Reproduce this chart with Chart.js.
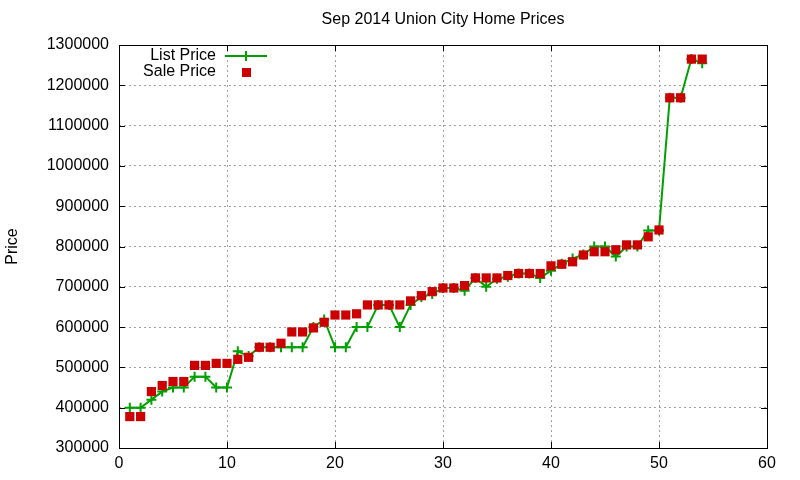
<!DOCTYPE html>
<html>
<head>
<meta charset="utf-8">
<script src="https://cdn.jsdelivr.net/npm/chart.js"></script>
<style>
  html, body { margin: 0; padding: 0; background: #ffffff; }
  #chart { display: block; }
</style>
</head>
<body>
<canvas id="chart" width="800" height="480"></canvas>
<script>
// Sep 2014 Union City home prices

const homeIndex = [1, 2, 3, 4, 5, 6, 7, 8, 9, 10,
                   11, 12, 13, 14, 15, 16, 17, 18, 19, 20,
                   21, 22, 23, 24, 25, 26, 27, 28, 29, 30,
                   31, 32, 33, 34, 35, 36, 37, 38, 39, 40,
                   41, 42, 43, 44, 45, 46, 47, 48, 49, 50,
                   51, 52, 53, 54];

const listPrice = [400000, 400000, 420000, 440000, 450000, 450000, 477000, 477000, 450000, 450000,
                   540000, 528000, 550000, 550000, 550000, 550000, 550000, 600000, 619000, 550000,
                   550000, 600000, 600000, 655000, 655000, 600000, 655000, 675000, 682000, 697000,
                   697000, 690000, 722000, 700000, 720000, 725000, 733000, 733000, 722000, 740000,
                   757000, 770000, 780000, 800000, 800000, 775000, 800000, 800000, 840000, 840000,
                   1169000, 1169000, 1265000, 1255000];

const salePrice = [378000, 378000, 440000, 455000, 465000, 465000, 505000, 505000, 510000, 510000,
                   520000, 525000, 550000, 550000, 560000, 588000, 588000, 598000, 612000, 630000,
                   630000, 633000, 655000, 655000, 655000, 655000, 665000, 678000, 688000, 697000,
                   697000, 703000, 722000, 722000, 722000, 728000, 733000, 733000, 733000, 752000,
                   756000, 762000, 779000, 787000, 787000, 792000, 804000, 804000, 824000, 841000,
                   1169000, 1169000, 1265000, 1265000];

const xTicks = [0, 10, 20, 30, 40, 50, 60];
const yTicks = [300000, 400000, 500000, 600000, 700000, 800000, 900000, 1000000, 1100000, 1200000, 1300000];

const chartTitle = "Sep 2014 Union City Home Prices";
const yTitle = "Price";
const seriesNames = ["List Price", "Sale Price"];

const GREEN = "#00a000";
const RED = "#cc0000";
const FONT = "'Liberation Sans', Arial, sans-serif";

function toPoints(xs, ys) {
    return xs.map((x, i) => ({ x: x, y: ys[i] }));
}

// border box, inward tick marks, title, y label and key, gnuplot style
const gnuplotFrame = {
    id: "gnuplotFrame",
    afterDraw(chart) {
        const ctx = chart.ctx;
        const area = chart.chartArea;
        const xs = chart.scales.x;
        const ys = chart.scales.y;
        ctx.save();

        ctx.strokeStyle = "#000000";
        ctx.lineWidth = 1;
        ctx.beginPath();
        xTicks.forEach(v => {
            const px = Math.round(xs.getPixelForValue(v)) + 0.5;
            ctx.moveTo(px, area.bottom); ctx.lineTo(px, area.bottom - 6);
            ctx.moveTo(px, area.top); ctx.lineTo(px, area.top + 6);
        });
        yTicks.forEach(v => {
            const py = Math.round(ys.getPixelForValue(v)) + 0.5;
            ctx.moveTo(area.left, py); ctx.lineTo(area.left + 6, py);
            ctx.moveTo(area.right, py); ctx.lineTo(area.right - 6, py);
        });
        ctx.stroke();
        ctx.strokeRect(Math.round(area.left) + 0.5, Math.round(area.top) + 0.5,
                       Math.round(area.right - area.left), Math.round(area.bottom - area.top));

        ctx.fillStyle = "#000000";
        ctx.font = "16px " + FONT;
        ctx.textAlign = "center";
        ctx.textBaseline = "middle";
        ctx.fillText(chartTitle, (area.left + area.right) / 2, 20);

        ctx.save();
        ctx.translate(13, (area.top + area.bottom) / 2);
        ctx.rotate(-Math.PI / 2);
        ctx.font = "16px " + FONT;
        ctx.fillText(yTitle, 0, 0);
        ctx.restore();

        // key
        ctx.font = "16px " + FONT;
        ctx.textAlign = "right";
        ctx.fillText(seriesNames[0], 216, 56);
        ctx.fillText(seriesNames[1], 216, 72);

        ctx.strokeStyle = GREEN;
        ctx.lineWidth = 2;
        ctx.beginPath();
        ctx.moveTo(225, 56); ctx.lineTo(267, 56);
        ctx.moveTo(246, 51); ctx.lineTo(246, 61);
        ctx.stroke();

        ctx.fillStyle = RED;
        ctx.fillRect(242, 68, 9, 9);
        ctx.restore();
    }
};

new Chart(document.getElementById("chart"), {
    type: "scatter",
    data: {
        datasets: [
            {
                label: seriesNames[0],
                data: toPoints(homeIndex, listPrice),
                showLine: true,
                borderColor: GREEN,
                borderWidth: 2,
                pointStyle: "cross",
                pointRadius: 5,
                pointBorderColor: GREEN,
                pointBorderWidth: 2,
                order: 2
            },
            {
                label: seriesNames[1],
                data: toPoints(homeIndex, salePrice),
                showLine: false,
                pointStyle: "rect",
                pointRadius: 6.5,
                pointBackgroundColor: RED,
                pointBorderWidth: 0,
                order: 1
            }
        ]
    },
    options: {
        responsive: false,
        animation: false,
        devicePixelRatio: 1,
        layout: { padding: { top: 45, right: 33, left: 0, bottom: 0 } },
        plugins: {
            legend: { display: false },
            title: { display: false },
            tooltip: { enabled: false }
        },
        scales: {
            x: {
                type: "linear",
                min: 0,
                max: 60,
                afterBuildTicks(scale) { scale.ticks = xTicks.map(v => ({ value: v })); },
                afterFit(scale) { scale.height = 32; },
                ticks: { color: "#000000", padding: 6, font: { family: FONT, size: 16 } },
                grid: { color: "#a0a0a0", drawTicks: false, lineWidth: 1 },
                border: { display: false, dash: [2, 3] }
            },
            y: {
                min: 300000,
                max: 1300000,
                afterBuildTicks(scale) { scale.ticks = yTicks.map(v => ({ value: v })); },
                afterFit(scale) { scale.width = 119; },
                ticks: {
                    color: "#000000",
                    padding: 10,
                    font: { family: FONT, size: 16 },
                    callback: v => String(v)
                },
                grid: { color: "#a0a0a0", drawTicks: false, lineWidth: 1 },
                border: { display: false, dash: [2, 3] }
            }
        }
    },
    plugins: [gnuplotFrame]
});
</script>
</body>
</html>
